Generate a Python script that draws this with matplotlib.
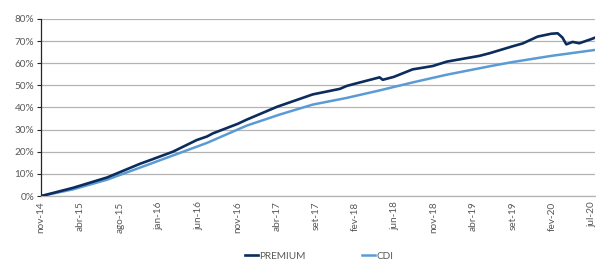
import matplotlib
matplotlib.use("Agg")
import matplotlib.pyplot as plt
from matplotlib.ticker import PercentFormatter

plt.rcParams['font.family'] = ['Lato', 'DejaVu Sans']

# tick labels on the category axis (equally spaced)
tick_labels = ['nov-14', 'abr-15', 'ago-15', 'jan-16', 'jun-16', 'nov-16', 'abr-17',
               'set-17', 'fev-18', 'jun-18', 'nov-18', 'abr-19', 'set-19', 'fev-20', 'jul-20']

# positions in tick units (%)
premium_pos = [0, 0.81, 1.68, 2.52, 2.77, 3.35, 3.96, 4.22, 4.37, 5.00, 5.23, 6.00,
               6.91, 7.60, 7.77, 7.98, 8.61, 8.69, 8.97, 9.45, 9.96, 10.32, 11.15,
               11.41, 11.99, 12.25, 12.63, 12.98, 13.14, 13.26, 13.36, 13.52, 13.69,
               14.00, 14.10]
premium = [0, 3.7, 8.4, 14.6, 16.2, 20.0, 25.3, 26.9, 28.3, 32.6, 34.5, 40.3,
           45.9, 48.4, 49.7, 50.7, 53.6, 52.5, 53.8, 57.2, 58.7, 60.7, 63.3,
           64.5, 67.6, 68.9, 72.0, 73.3, 73.5, 71.6, 68.5, 69.6, 69.0,
           70.9, 71.6]

cdi_pos = [0, 0.81, 1.68, 2.77, 3.61, 4.22, 5.23, 6.07, 6.91, 7.77, 8.61, 9.45,
           10.32, 11.41, 11.99, 12.98, 14.10]
cdi = [0, 3.0, 7.4, 14.5, 20.0, 24.0, 31.8, 36.8, 41.3, 44.3, 47.7, 51.3,
       54.8, 58.6, 60.5, 63.3, 66.0]

fig = plt.figure(figsize=(5.96, 2.66), dpi=100)
ax = fig.add_axes([0.069, 0.263, 0.93, 0.666])

ax.plot(premium_pos, premium, color='#0b2c5c', lw=1.9, label='PREMIUM', zorder=3)
ax.plot(cdi_pos, cdi, color='#5b9bd5', lw=1.8, label='CDI', zorder=2)

ax.set_xlim(0, 14.1)
ax.set_ylim(0, 80)
ax.set_yticks(range(0, 81, 10))
ax.yaxis.set_major_formatter(PercentFormatter(decimals=0))
ax.set_xticks(range(len(tick_labels)))
ax.set_xticklabels(tick_labels, rotation=90)

ax.grid(axis='y', color='#b4b4b4', lw=0.9)
ax.set_axisbelow(True)
for s in ['top', 'right']:
    ax.spines[s].set_visible(False)
ax.spines['left'].set_color('#262626')
ax.spines['left'].set_linewidth(0.9)
ax.spines['bottom'].set_color('#b4b4b4')
ax.spines['bottom'].set_linewidth(0.9)

ax.tick_params(axis='y', length=3, width=0.8, color='#262626', labelsize=7.2,
               labelcolor='#595959', pad=2)
ax.tick_params(axis='x', length=0, labelsize=7.2, labelcolor='#595959', pad=4)

fig.legend(loc='lower center', bbox_to_anchor=(0.535, -0.015), ncol=2, frameon=False,
           fontsize=7.2, handlelength=1.3, handletextpad=0.15, columnspacing=5.6,
           labelcolor='#595959')

fig.savefig('out.png', dpi=100)
